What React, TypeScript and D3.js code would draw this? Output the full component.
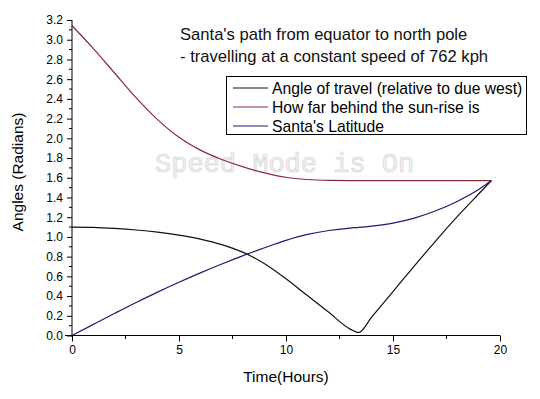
import React, { useEffect, useRef } from 'react';
import * as d3 from 'd3';

// Time (hours) sampled along the path
const hours = [0, 1, 2, 3, 4, 5, 6, 7, 8, 9, 10, 11, 12, 13, 13.4, 14, 15, 16, 17, 18, 19, 19.6];

// Angle of travel (relative to due west)
const travelAngle = [1.1, 1.097, 1.086, 1.07, 1.048, 1.018, 0.978, 0.922, 0.843, 0.728, 0.575, 0.405, 0.235, 0.065, 0.03, 0.186, 0.446, 0.706, 0.96, 1.205, 1.435, 1.571];

// How far behind the sun-rise is
const behindSunrise = [3.142, 2.91, 2.66, 2.41, 2.19, 2.01, 1.88, 1.785, 1.71, 1.65, 1.605, 1.582, 1.573, 1.571, 1.571, 1.571, 1.571, 1.571, 1.571, 1.571, 1.571, 1.571];

// Santa's latitude
const latitude = [0, 0.113, 0.225, 0.335, 0.44, 0.54, 0.635, 0.725, 0.81, 0.89, 0.965, 1.025, 1.065, 1.09, 1.097, 1.11, 1.14, 1.19, 1.265, 1.36, 1.48, 1.571];

const seriesNames = ['Angle of travel (relative to due west)', 'How far behind the sun-rise is', "Santa's Latitude"];
const seriesColors = ['#111111', '#8b2a3a', '#1c1c70'];

const xMajor = [0, 5, 10, 15, 20];
const xMinor = [2.5, 7.5, 12.5, 17.5];

const Chart = () => {
  const chartRef = useRef<HTMLDivElement>(null);

  useEffect(() => {
    const width = 540;
    const height = 399;
    const font = 'Arial, "Liberation Sans", sans-serif';

    d3.select(chartRef.current).select('svg').remove();

    const svg = d3
      .select(chartRef.current)
      .append('svg')
      .attr('width', width)
      .attr('height', height)
      .style('position', 'absolute')
      .style('left', 0)
      .style('top', 0)
      .style('background', '#fff');

    const x = d3.scaleLinear().domain([0, 20]).range([72, 500]);
    const y = d3.scaleLinear().domain([0, 3.2]).range([335.5, 20]);

    // Watermark
    svg
      .append('text')
      .attr('x', 155)
      .attr('y', 172)
      .attr('font-family', '"Liberation Mono", "DejaVu Sans Mono", monospace')
      .attr('font-size', 27)
      .attr('fill', '#f1f1f1')
      .attr('stroke', '#d6d6d6')
      .attr('stroke-width', 0.7)
      .text('Speed Mode is On');

    // Series
    const all = [travelAngle, behindSunrise, latitude];
    const line = d3
      .line<number>()
      .x((_, i) => x(hours[i]))
      .y(d => y(d))
      .curve(d3.curveMonotoneX);

    all.forEach((vals, k) => {
      svg
        .append('path')
        .datum(vals)
        .attr('d', line)
        .attr('fill', 'none')
        .attr('stroke', seriesColors[k])
        .attr('stroke-width', 1.2);
    });

    // X axis
    const gx = svg.append('g').attr('transform', `translate(0,${y(0)})`);
    gx.call(
      d3.axisBottom(x).tickValues(xMajor).tickSize(6).tickSizeOuter(0).tickPadding(4).tickFormat(d3.format('d'))
    );
    gx.call(g => g.select('.domain').attr('d', `M${x(0) - 7},0H${x(20)}`));
    xMinor.forEach(v => {
      gx.append('line').attr('x1', x(v)).attr('x2', x(v)).attr('y1', 0).attr('y2', 3.5).attr('stroke', '#000');
    });
    gx.selectAll('text').attr('font-family', font).attr('font-size', 12).attr('fill', '#000');

    // Y axis
    const yMajor = d3.range(0, 3.21, 0.2);
    const yMinor = d3.range(0.1, 3.2, 0.2);
    const gy = svg.append('g').attr('transform', `translate(${x(0)},0)`);
    gy.call(
      d3.axisLeft(y).tickValues(yMajor).tickSize(5).tickSizeOuter(0).tickPadding(4).tickFormat(d3.format('.1f'))
    );
    gy.call(g => g.select('.domain').attr('d', `M0,${y(3.2)}V${y(0) + 1.5}`));
    yMinor.forEach(v => {
      gy.append('line').attr('x1', 0).attr('x2', -3).attr('y1', y(v)).attr('y2', y(v)).attr('stroke', '#000');
    });
    gy.selectAll('text').attr('font-family', font).attr('font-size', 12).attr('fill', '#000');

    // Axis titles
    svg
      .append('text')
      .attr('x', 286)
      .attr('y', 382)
      .attr('text-anchor', 'middle')
      .attr('font-family', font)
      .attr('font-size', 15.5)
      .text('Time(Hours)');

    svg
      .append('text')
      .attr('transform', `translate(23,${172}) rotate(-90)`)
      .attr('text-anchor', 'middle')
      .attr('font-family', font)
      .attr('font-size', 15.5)
      .text('Angles (Radians)');

    // Title
    const title = svg
      .append('text')
      .attr('font-family', font)
      .attr('font-size', 16.6)
      .attr('fill', '#111');
    title.append('tspan').attr('x', 180).attr('y', 40).text("Santa's path from equator to north pole");
    title.append('tspan').attr('x', 180).attr('y', 62).text('- travelling at a constant speed of 762 kph');

    // Legend
    const legend = svg.append('g');
    legend
      .append('rect')
      .attr('x', 226.5)
      .attr('y', 76.5)
      .attr('width', 300)
      .attr('height', 58)
      .attr('fill', '#fff')
      .attr('stroke', '#000');
    seriesNames.forEach((name, k) => {
      const cy = 88 + k * 19;
      legend
        .append('line')
        .attr('x1', 233)
        .attr('x2', 268)
        .attr('y1', cy)
        .attr('y2', cy)
        .attr('stroke', seriesColors[k])
        .attr('stroke-width', 1.2);
      legend
        .append('text')
        .attr('x', 272)
        .attr('y', cy + 5.5)
        .attr('font-family', font)
        .attr('font-size', 15.7)
        .attr('fill', '#000')
        .text(name);
    });
  }, []);

  return (
    <div>
      <div ref={chartRef}></div>
    </div>
  );
};

export default function App() {
  return <Chart />;
}
